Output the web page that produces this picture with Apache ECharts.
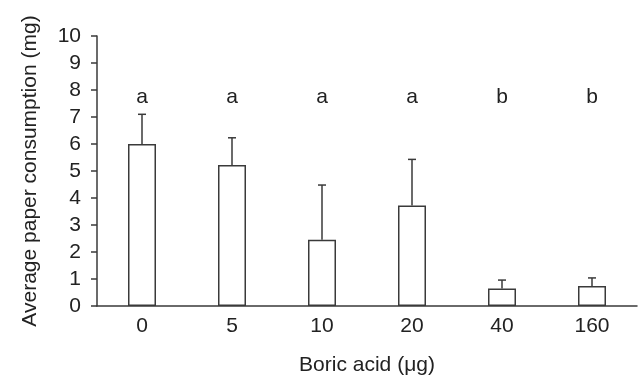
<!DOCTYPE html>
<html>
<head>
<meta charset="utf-8">
<script src="https://cdn.jsdelivr.net/npm/echarts@6/dist/echarts.min.js"></script>
<style>
    html, body { margin: 0; padding: 0; background: #fff; }
    #chart { width: 639px; height: 381px; }
</style>
</head>
<body>
<div id="chart"></div>
<script>
    //数据
    var doses = ['0', '5', '10', '20', '40', '160'];
    var meanValues = [6.0, 5.22, 2.45, 3.72, 0.65, 0.74];
    var errorTops = [7.1, 6.23, 4.48, 5.43, 0.96, 1.04];
    var groupLetters = ['a', 'a', 'a', 'a', 'b', 'b'];
    var letterLevel = 7.72;
    var yTicks = [0, 1, 2, 3, 4, 5, 6, 7, 8, 9, 10];

    var lineColor = '#3a3a3a';
    var textColor = '#222';
    var fontName = 'Liberation Sans';

    //误差线数据
    var errorData = [];
    for (var i = 0; i < doses.length; i++) {
        errorData.push([i, meanValues[i], errorTops[i]]);
    }
    //字母标注
    var letterData = [];
    for (var i = 0; i < doses.length; i++) {
        letterData.push([i, letterLevel]);
    }

    var myChart = echarts.init(document.getElementById('chart'));
    var option = {
        animation: false,
        backgroundColor: '#fff',
        grid: { left: 97, top: 36, width: 540, height: 270 },
        xAxis: {
            type: 'category',
            data: doses,
            name: 'Boric acid (μg)',
            nameLocation: 'middle',
            nameGap: 49,
            nameTextStyle: { color: textColor, fontFamily: fontName, fontSize: 21 },
            axisLine: { lineStyle: { color: lineColor, width: 1.5 } },
            axisTick: { show: false },
            axisLabel: { color: textColor, fontFamily: fontName, fontSize: 21, margin: 10 },
            splitLine: { show: false }
        },
        yAxis: {
            type: 'value',
            min: yTicks[0],
            max: yTicks[yTicks.length - 1],
            interval: 1,
            name: 'Average paper consumption (mg)',
            nameLocation: 'middle',
            nameGap: 56,
            nameTextStyle: { color: textColor, fontFamily: fontName, fontSize: 21 },
            axisLine: { show: true, lineStyle: { color: lineColor, width: 1.5 } },
            axisTick: { show: true, length: 6, lineStyle: { color: lineColor, width: 1.5 } },
            axisLabel: { color: textColor, fontFamily: fontName, fontSize: 21, margin: 16 },
            splitLine: { show: false }
        },
        series: [
            {
                type: 'bar',
                data: meanValues,
                barWidth: 28,
                itemStyle: { color: '#fff', borderColor: lineColor, borderWidth: 1.5 },
                z: 2
            },
            {
                type: 'custom',
                data: errorData,
                z: 3,
                renderItem: function (params, api) {
                    var base = api.coord([api.value(0), api.value(1)]);
                    var top = api.coord([api.value(0), api.value(2)]);
                    var half = 4;
                    return {
                        type: 'group',
                        children: [
                            {
                                type: 'line',
                                shape: { x1: base[0], y1: base[1], x2: top[0], y2: top[1] },
                                style: { stroke: lineColor, lineWidth: 1.5 }
                            },
                            {
                                type: 'line',
                                shape: { x1: top[0] - half, y1: top[1], x2: top[0] + half, y2: top[1] },
                                style: { stroke: lineColor, lineWidth: 1.5 }
                            }
                        ]
                    };
                }
            },
            {
                type: 'custom',
                data: letterData,
                z: 4,
                renderItem: function (params, api) {
                    var pos = api.coord([api.value(0), api.value(1)]);
                    return {
                        type: 'text',
                        x: pos[0],
                        y: pos[1],
                        style: {
                            text: groupLetters[params.dataIndex],
                            fill: textColor,
                            font: '21px "' + fontName + '"',
                            align: 'center',
                            verticalAlign: 'middle'
                        }
                    };
                }
            }
        ]
    };
    myChart.setOption(option);
</script>
</body>
</html>
